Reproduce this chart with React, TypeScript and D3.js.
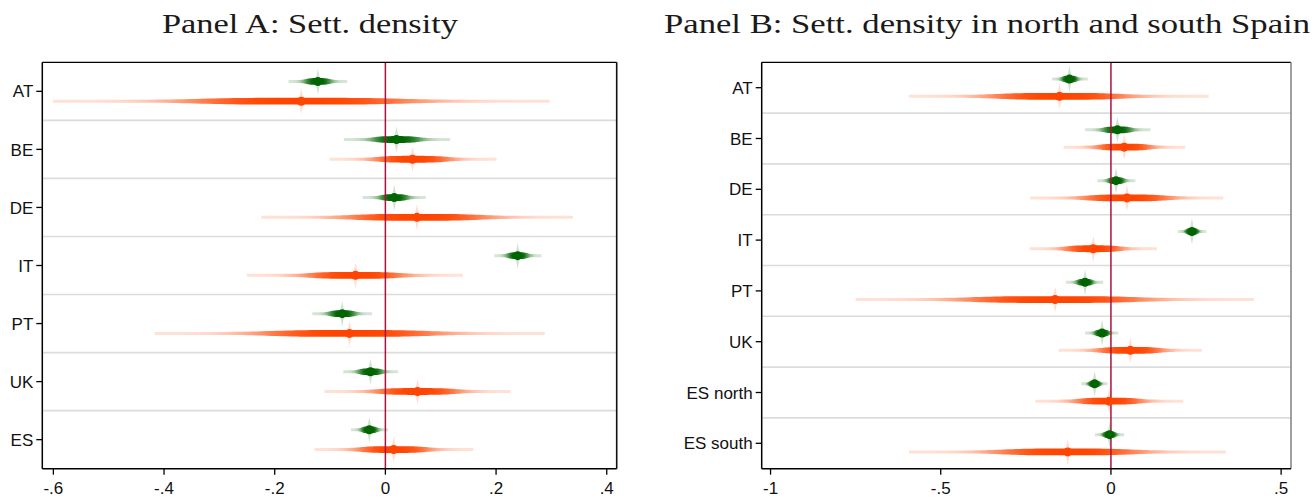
import React from 'react';
import * as d3 from 'd3';

// ---------- DATA ----------
const catsA = ['AT', 'BE', 'DE', 'IT', 'PT', 'UK', 'ES'];
const greenAEst = [-0.122, 0.020, 0.016, 0.239, -0.078, -0.027, -0.029];
const greenALo = [-0.175, -0.075, -0.041, 0.197, -0.132, -0.076, -0.062];
const greenAHi = [-0.069, 0.117, 0.073, 0.282, -0.024, 0.023, 0.005];
const orangeAEst = [-0.152, 0.049, 0.057, -0.054, -0.065, 0.058, 0.015];
const orangeALo = [-0.601, -0.101, -0.224, -0.250, -0.417, -0.110, -0.128];
const orangeAHi = [0.297, 0.201, 0.339, 0.140, 0.288, 0.226, 0.159];
const ticksA = [-0.6, -0.4, -0.2, 0, 0.2, 0.4];
const tickLabelsA = ['-.6', '-.4', '-.2', '0', '.2', '.4'];

const catsB = ['AT', 'BE', 'DE', 'IT', 'PT', 'UK', 'ES north', 'ES south'];
const greenBEst = [-0.122, 0.019, 0.015, 0.238, -0.076, -0.026, -0.048, -0.004];
const greenBLo = [-0.173, -0.076, -0.040, 0.197, -0.132, -0.076, -0.087, -0.047];
const greenBHi = [-0.068, 0.116, 0.072, 0.280, -0.023, 0.022, -0.010, 0.039];
const orangeBEst = [-0.151, 0.039, 0.047, -0.052, -0.164, 0.057, -0.005, -0.127];
const orangeBLo = [-0.594, -0.139, -0.237, -0.239, -0.750, -0.154, -0.222, -0.593];
const orangeBHi = [0.287, 0.218, 0.330, 0.135, 0.420, 0.267, 0.212, 0.338];
const ticksB = [-1, -0.5, 0, 0.5];
const tickLabelsB = ['-1', '-.5', '0', '.5'];

const titleA = 'Panel A: Sett. density';
const titleB = 'Panel B: Sett. density in north and south Spain';

const GREEN = '#006400';
const ORANGE = '#ff4500';
const ZERO = '#a8123c';
const SANS = '"Liberation Sans", Arial, Helvetica, sans-serif';
const SERIF = '"Liberation Serif", "Times New Roman", serif';

type PanelProps = {
  id: string;
  cats: string[];
  gE: number[]; gL: number[]; gH: number[];
  oE: number[]; oL: number[]; oH: number[];
  ticks: number[]; tickLabels: string[];
  domain: [number, number];
  left: number; right: number; top: number; bottom: number;
  title: string; titleX: number; titleW: number;
  rightBorder: string;
};

function SmoothCI(props: { id: string; est: number; lo: number; hi: number; cy: number; color: string; x: d3.ScaleLinear<number, number> }) {
  const { id, est, lo, hi, cy, color, x } = props;
  const xs = x(lo), xe = x(hi), xp = x(est);
  const N = 80;
  const zOf = (v: number) => {
    const half = v < est ? est - lo : hi - est;
    return half > 0 ? (Math.abs(v - est) / half) * 3.29 : 0;
  };
  const vals = d3.range(N + 1).map(i => lo + ((hi - lo) * i) / N);
  const halfH = (z: number) => 1.5 + 1.9 * Math.exp(-Math.pow(z / 1.45, 4));
  const opac = (z: number) => 0.16 + 0.84 * Math.exp(-Math.pow(z / 1.7, 3));
  const topPts = vals.map(v => [x(v), cy - halfH(zOf(v))] as [number, number]);
  const botPts = vals.slice().reverse().map(v => [x(v), cy + halfH(zOf(v))] as [number, number]);
  const path = d3.line()([...topPts, ...botPts]) + 'Z';
  const stops = vals.map(v => ({ off: (x(v) - xs) / (xe - xs), op: opac(zOf(v)) }));
  const spike = d3.line()([[xp, cy - 13], [xp + 2.5, cy], [xp, cy + 13], [xp - 2.5, cy]]) + 'Z';
  const diamond = d3.line()([[xp - 8, cy], [xp, cy - 4], [xp + 8, cy], [xp, cy + 4]]) + 'Z';
  return (
    <g>
      <defs>
        <linearGradient id={id} gradientUnits="userSpaceOnUse" x1={xs} x2={xe} y1={0} y2={0}>
          {stops.map((s, i) => (
            <stop key={i} offset={s.off} stopColor={color} stopOpacity={s.op} />
          ))}
        </linearGradient>
      </defs>
      <path d={path} fill={`url(#${id})`} />
      <path d={spike} fill={color} opacity={0.18} />
      <path d={diamond} fill={color} opacity={0.6} />
    </g>
  );
}

function Panel(p: PanelProps) {
  const x = d3.scaleLinear().domain(p.domain).range([p.left, p.right]);
  const band = d3.scaleBand<string>().domain(p.cats).range([p.top, p.bottom]).padding(0);
  const bw = band.bandwidth();
  const off = bw * 0.17;
  const x0 = x(0);
  return (
    <g>
      <text x={p.titleX} y={33} textAnchor="middle" fontFamily={SERIF} fontSize={27}
        textLength={p.titleW} lengthAdjust="spacingAndGlyphs" fill="#1a1a1a">{p.title}</text>
      {/* separators */}
      {p.cats.slice(1).map(c => (
        <line key={'s' + c} x1={p.left} x2={p.right} y1={band(c)!} y2={band(c)!} stroke="#dcdcdc" strokeWidth={1.6} />
      ))}
      {/* CIs */}
      {p.cats.map((c, i) => {
        const cy = band(c)! + bw / 2;
        return (
          <g key={'ci' + c}>
            <SmoothCI id={`${p.id}g${i}`} est={p.gE[i]} lo={p.gL[i]} hi={p.gH[i]} cy={cy - off} color={GREEN} x={x} />
            <SmoothCI id={`${p.id}o${i}`} est={p.oE[i]} lo={p.oL[i]} hi={p.oH[i]} cy={cy + off} color={ORANGE} x={x} />
          </g>
        );
      })}
      {/* zero line */}
      <line x1={x0} x2={x0} y1={p.top} y2={p.bottom} stroke={ZERO} strokeWidth={1.5} />
      {/* markers on top of zero line */}
      {p.cats.map((c, i) => {
        const cy = band(c)! + bw / 2;
        return (
          <g key={'m' + c}>
            <circle cx={x(p.gE[i])} cy={cy - off} r={4.5} fill={GREEN} />
            <circle cx={x(p.oE[i])} cy={cy + off} r={4.5} fill={ORANGE} />
          </g>
        );
      })}
      {/* frame */}
      <line x1={p.left} x2={p.right} y1={p.top} y2={p.top} stroke="#000" strokeWidth={1.3} />
      <line x1={p.right} x2={p.right} y1={p.top} y2={p.bottom} stroke={p.rightBorder} strokeWidth={1.6} />
      <line x1={p.left} x2={p.left} y1={p.top} y2={p.bottom} stroke="#000" strokeWidth={1.5} />
      <line x1={p.left} x2={p.right} y1={p.bottom} y2={p.bottom} stroke="#000" strokeWidth={1.5} />
      {/* y ticks */}
      {p.cats.map(c => {
        const cy = band(c)! + bw / 2;
        return (
          <g key={'y' + c}>
            <line x1={p.left - 6} x2={p.left} y1={cy} y2={cy} stroke="#000" strokeWidth={1.3} />
            <text x={p.left - 9} y={cy} dy="0.36em" textAnchor="end" fontFamily={SANS} fontSize={17} fill="#111">{c}</text>
          </g>
        );
      })}
      {/* x ticks */}
      {p.ticks.map((t, i) => (
        <g key={'x' + i}>
          <line x1={x(t)} x2={x(t)} y1={p.bottom} y2={p.bottom + 6} stroke="#000" strokeWidth={1.3} />
          <text x={x(t)} y={p.bottom + 25} textAnchor="middle" fontFamily={SANS} fontSize={17} fill="#111">{p.tickLabels[i]}</text>
        </g>
      ))}
    </g>
  );
}

export default function App() {
  return (
    <svg width={1316} height={498} style={{ position: 'absolute', left: 0, top: 0, background: '#fff' }}>
      <rect x={0} y={0} width={1316} height={498} fill="#fff" />
      <Panel id="A" cats={catsA}
        gE={greenAEst} gL={greenALo} gH={greenAHi}
        oE={orangeAEst} oL={orangeALo} oH={orangeAHi}
        ticks={ticksA} tickLabels={tickLabelsA}
        domain={[-0.62, 0.418]} left={42.3} right={616.7} top={62.3} bottom={468.7}
        title={titleA} titleX={310} titleW={296} rightBorder="#111" />
      <Panel id="B" cats={catsB}
        gE={greenBEst} gL={greenBLo} gH={greenBHi}
        oE={orangeBEst} oL={orangeBLo} oH={orangeBHi}
        ticks={ticksB} tickLabels={tickLabelsB}
        domain={[-1.026, 0.529]} left={761.7} right={1291} top={62.3} bottom={468.7}
        title={titleB} titleX={987} titleW={646} rightBorder="#888" />
    </svg>
  );
}
